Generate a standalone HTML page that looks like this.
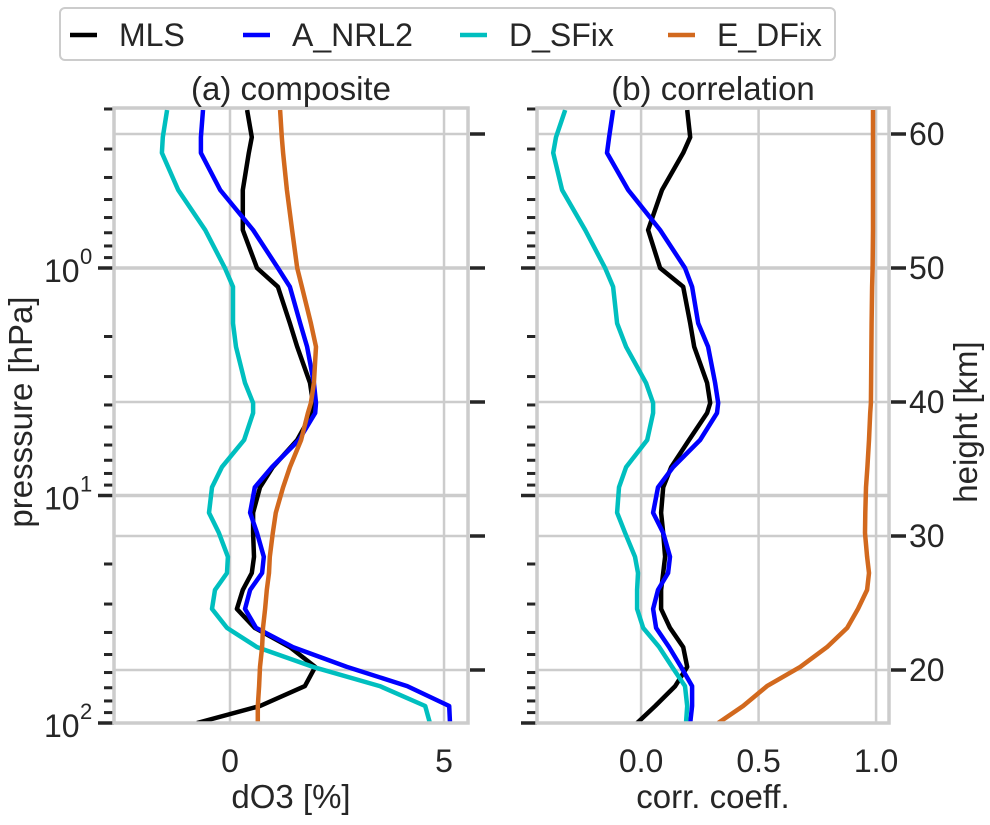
<!DOCTYPE html>
<html><head><meta charset="utf-8">
<style>
body{margin:0;background:#fff;}
svg text{font-family:"Liberation Sans",sans-serif;fill:#262626;}
</style></head>
<body>
<svg id="chart" width="990" height="820" viewBox="0 0 990 820" xmlns="http://www.w3.org/2000/svg">
<g id="legend">
<rect x="60" y="8" width="775" height="52" rx="5" fill="#fff" stroke="#ccc" stroke-width="2"/>
</g>
<g id="grid"></g>
<g id="series"></g>
<g id="axes"></g>
</svg>
<script>
// pressure levels (hPa)
const pressure = [0.202,0.266,0.312,0.454,0.681,1.0,1.21,1.75,2.22,3.2,3.92,4.34,5.7,7.5,9.2,11.9,14.6,18.6,21.9,26.0,31.5,38.2,46.4,56.7,68.8,84.2,100];
// (a) composite dO3 [%]
const compMLS   = [0.40,0.51,0.44,0.30,0.30,0.63,1.12,1.40,1.57,1.87,1.94,1.92,1.57,1.00,0.70,0.54,0.54,0.56,0.51,0.30,0.16,0.58,1.40,1.99,1.75,0.70,-0.77];
const compNRL2  = [-0.63,-0.68,-0.68,-0.23,0.54,1.12,1.40,1.64,1.80,1.96,2.01,1.99,1.61,0.98,0.58,0.47,0.63,0.79,0.75,0.47,0.35,0.61,1.47,2.73,4.14,5.12,5.14];
const compSFix  = [-1.47,-1.57,-1.59,-1.21,-0.58,-0.12,0.07,0.07,0.14,0.35,0.54,0.54,0.33,-0.19,-0.42,-0.49,-0.26,-0.05,-0.07,-0.35,-0.42,-0.07,0.63,1.94,3.50,4.56,4.67];
const compDFix  = [1.17,1.21,1.24,1.33,1.45,1.57,1.68,1.89,2.01,1.96,1.89,1.82,1.66,1.40,1.24,1.07,1.00,0.93,0.91,0.86,0.82,0.77,0.75,0.70,0.68,0.65,0.65];
// (b) correlation
const corrMLS   = [0.196,0.209,0.179,0.089,0.030,0.081,0.179,0.209,0.226,0.281,0.294,0.281,0.204,0.128,0.094,0.085,0.094,0.102,0.094,0.085,0.085,0.123,0.179,0.196,0.145,0.060,-0.017];
const corrNRL2  = [-0.119,-0.136,-0.145,-0.055,0.081,0.187,0.217,0.243,0.285,0.315,0.328,0.323,0.251,0.136,0.072,0.051,0.094,0.123,0.115,0.072,0.051,0.064,0.119,0.170,0.217,0.217,0.209];
const corrSFix  = [-0.323,-0.362,-0.374,-0.336,-0.238,-0.153,-0.119,-0.102,-0.064,0.021,0.051,0.051,0.026,-0.064,-0.094,-0.102,-0.068,-0.026,-0.013,-0.017,-0.017,0.009,0.077,0.132,0.187,0.196,0.191];
const corrDFix  = [0.987,0.987,0.987,0.987,0.987,0.985,0.983,0.981,0.980,0.979,0.978,0.975,0.970,0.963,0.957,0.954,0.953,0.962,0.970,0.962,0.923,0.877,0.791,0.677,0.536,0.434,0.328];
const seriesNames = ["MLS","A_NRL2","D_SFix","E_DFix"];
const seriesColors = ["#000000","#0000ff","#00bfbf","#d2691e"];
const compTicks = [0,5];
const corrTicks = [0,0.5,1.0];
const corrTickLabels = ["0.0","0.5","1.0"];
const heightTicks = [20,30,40,50,60];
const pressureMajor = [1,10,100];

const NS="http://www.w3.org/2000/svg";
const TOP=108, BOT=723;
const LOGTOP=Math.log10(0.198), LOGBOT=2;
function yP(p){return TOP+(Math.log10(p)-LOGTOP)/(LOGBOT-LOGTOP)*(BOT-TOP);}
function yH(h){return 670+(20-h)*13.4;}
const panels=[
 {x0:114,x1:468,vmin:-2.71,vmax:5.56,data:[compMLS,compNRL2,compSFix,compDFix],ticks:compTicks,labels:["0","5"],title:"(a) composite",xlabel:"dO3 [%]",key:"composite"},
 {x0:537,x1:889,vmin:-0.443,vmax:1.055,data:[corrMLS,corrNRL2,corrSFix,corrDFix],ticks:corrTicks,labels:corrTickLabels,title:"(b) correlation",xlabel:"corr. coeff.",key:"correlation"}
];
function mk(tag,attrs,parent,txt){const e=document.createElementNS(NS,tag);for(const k in attrs)e.setAttribute(k,attrs[k]);if(txt!==undefined)e.textContent=txt;parent.appendChild(e);return e;}
const G=document.getElementById('grid'),S=document.getElementById('series'),A=document.getElementById('axes'),L=document.getElementById('legend');

panels.forEach((pn,pi)=>{
  const xs=v=>pn.x0+(v-pn.vmin)/(pn.vmax-pn.vmin)*(pn.x1-pn.x0);
  pn.ticks.forEach((t,i)=>{
    const l=mk('line',{x1:xs(t),x2:xs(t),y1:TOP,y2:BOT,stroke:'#cccccc','stroke-width':2.5},G);
    
    
    const tx=mk('text',{x:xs(t),y:772,'font-size':32,'text-anchor':'middle'},A,pn.labels[i]);
    
    
  });
  pressureMajor.forEach(p=>{
    const y=yP(p);
    if(p<100){const l=mk('line',{x1:pn.x0,x2:pn.x1,y1:y,y2:y,stroke:'#cccccc','stroke-width':3.5},G);
    
    }
    const t=mk('line',{x1:pn.x0-16,x2:pn.x0,y1:y,y2:y,stroke:'#262626','stroke-width':3.5},A);
    
    
  });
  for(let d=-1;d<2;d++){for(let m=2;m<10;m++){const p=m*Math.pow(10,d);if(p<0.198)continue;const y=yP(p);
    const t=mk('line',{x1:pn.x0-10,x2:pn.x0,y1:y,y2:y,stroke:'#262626','stroke-width':3},A);
    
    }}
  heightTicks.forEach(h=>{
    const y=yH(h);
    const l=mk('line',{x1:pn.x0,x2:pn.x1,y1:y,y2:y,stroke:'#cccccc','stroke-width':2.5},G);
    
    
    const t=mk('line',{x1:pn.x1+2,x2:pn.x1+17,y1:y,y2:y,stroke:'#262626','stroke-width':3.5},A);
    
    
    if(pi===1){const tx=mk('text',{x:pn.x1+20,y:y+11,'font-size':32},A,String(h));
    
    }
  });
  const fr=mk('rect',{x:pn.x0,y:TOP,width:pn.x1-pn.x0,height:BOT-TOP,fill:'none',stroke:'#cccccc','stroke-width':3.5},A);
  
  
  const ti=mk('text',{x:(pn.x0+pn.x1)/2,y:100,'font-size':33,'text-anchor':'middle'},A,pn.title);
  
  
  const xl=mk('text',{x:(pn.x0+pn.x1)/2,y:808,'font-size':33,'text-anchor':'middle'},A,pn.xlabel);
  
  
  pn.data.forEach((arr,si)=>{
    const pts=arr.map((v,i)=>xs(v).toFixed(1)+','+yP(pressure[i]).toFixed(1)).join(' ');
    const pl=mk('polyline',{points:pts,fill:'none',stroke:seriesColors[si],'stroke-width':4.5,'stroke-linejoin':'round'},S);
    
    
  });
});
const cp=mk('clipPath',{id:'clipA'},document.getElementById('chart'));
mk('rect',{x:114,y:TOP,width:354,height:BOT-TOP},cp);mk('rect',{x:537,y:TOP,width:352,height:BOT-TOP},cp);
S.setAttribute('clip-path','url(#clipA)');
[[1,"0"],[10,"1"],[100,"2"]].forEach(([p,e])=>{
  const y=yP(p);
  const t=mk('text',{x:44,y:y+14,'font-size':32},A,"10");
  
  
  const s=mk('text',{x:80,y:y-4,'font-size':22},A,e);
  
  
});
const yl=mk('text',{x:0,y:0,'font-size':33,'text-anchor':'middle',transform:'translate(32,412) rotate(-90)'},A,'presssure [hPa]');


const yr=mk('text',{x:0,y:0,'font-size':33,'text-anchor':'middle',transform:'translate(977,422) rotate(-90)'},A,'height [km]');


const lx=[70,243,460,668];
seriesNames.forEach((n,i)=>{
  const g=mk('g',{},L);
  
  
  mk('line',{x1:lx[i],x2:lx[i]+27,y1:35,y2:35,stroke:seriesColors[i],'stroke-width':4.5},g);
  mk('text',{x:lx[i]+49,y:46,'font-size':32},g,n);
});
</script>
</body></html>
